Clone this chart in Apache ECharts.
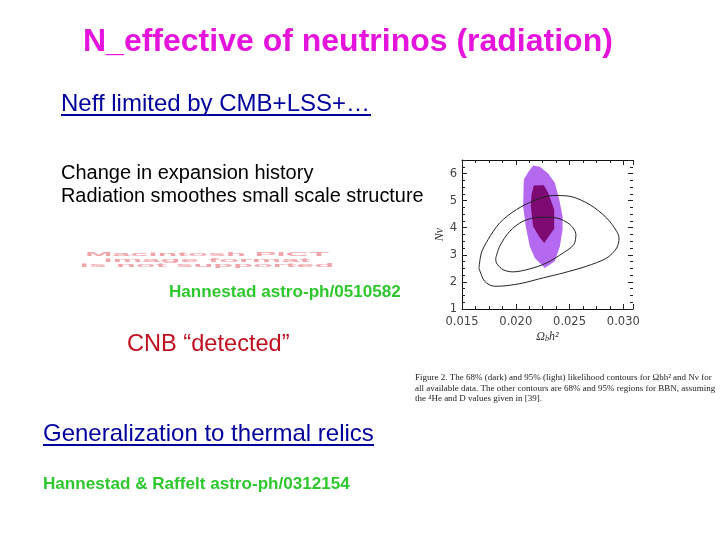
<!DOCTYPE html>
<html>
<head>
    <meta charset="utf-8">
    <title>N_effective of neutrinos</title>
    <script src="https://cdn.jsdelivr.net/npm/echarts@6/dist/echarts.min.js"></script>
    <style>html,body{margin:0;background:#fff}</style>
</head>
<body>
    <div id="main" style="width:720px;height:540px;"></div>
    <script>
        // contours: x = omega_b h^2, y = N_nu
        var outerX = [0.01658,0.0168,0.01742,0.01851,0.02006,0.02193,0.02348,0.02503,0.02689,0.02845,0.02938,0.0296,0.02938,0.02845,0.02658,0.02441,0.02255,0.02068,0.01913,0.01804,0.01711,0.01658];
        var outerY = [2.51,3.07,3.56,4.18,4.67,5.04,5.19,5.16,4.85,4.36,3.87,3.62,3.25,2.88,2.58,2.33,2.15,1.96,1.86,1.84,2.02,2.51];
        var innerX = [0.01814,0.01851,0.01944,0.02068,0.02224,0.02379,0.02503,0.02559,0.0254,0.02441,0.02286,0.0213,0.01975,0.01882,0.0182,0.01814];
        var innerY = [2.88,3.32,3.87,4.24,4.39,4.36,4.12,3.75,3.38,3.07,2.70,2.48,2.37,2.45,2.70,2.88];
        var lightX = [0.02161,0.02224,0.02301,0.02363,0.02404,0.02435,0.02435,0.0241,0.02363,0.0227,0.02177,0.0213,0.02093,0.02068,0.02075,0.02115];
        var lightY = [6.30,6.25,6.0,5.66,5.04,4.42,3.93,3.32,2.76,2.51,2.88,3.32,4.05,4.79,5.78,6.05];
        var darkX = [0.02168,0.02261,0.02301,0.02357,0.02357,0.02264,0.02217,0.02161,0.0214,0.02146];
        var darkY = [5.56,5.57,5.29,4.67,3.96,3.44,3.68,4.05,4.79,5.22];

        var heading = 'N_effective of neutrinos (radiation)';
        var linkTop = 'Neff limited by CMB+LSS+…';
        var bodyLines = ['Change in expansion history', 'Radiation smoothes small scale structure'];
        var pictLines = ['Macintosh PICT', 'image format', 'is not supported'];
        var cite1 = 'Hannestad astro-ph/0510582';
        var detected = 'CNB “detected”';
        var linkBottom = 'Generalization to thermal relics';
        var cite2 = 'Hannestad & Raffelt astro-ph/0312154';
        var captionLines = [
            'Figure 2. The 68% (dark) and 95% (light) likelihood contours for Ωbh² and Nν for',
            'all available data. The other contours are 68% and 95% regions for BBN, assuming',
            'the ⁴He and D values given in [39].'
        ];

        function zip(xs, ys) {
            return xs.map(function (x, i) { return [x, ys[i]]; });
        }

        // filled region, goes through the axis scales with api.coord
        function polygonSeries(xs, ys, color) {
            return {
                type: 'custom',
                coordinateSystem: 'cartesian2d',
                data: zip(xs, ys),
                silent: true,
                renderItem: function (params, api) {
                    if (params.dataIndex !== 0) return null;
                    return {
                        type: 'polygon',
                        shape: { points: zip(xs, ys).map(function (p) { return api.coord(p); }) },
                        style: { fill: color }
                    };
                }
            };
        }

        function contourSeries(xs, ys) {
            return {
                type: 'line',
                data: zip(xs, ys),
                smooth: 0.3,
                showSymbol: false,
                silent: true,
                lineStyle: { color: '#222', width: 1 }
            };
        }

        function label(str, x, y, size, color, weight) {
            return {
                type: 'text', x: x, y: y,
                style: {
                    text: str, fill: color || '#000',
                    font: (weight || 'normal') + ' ' + size + 'px "Liberation Sans", Arial, sans-serif',
                    verticalAlign: 'middle'
                }
            };
        }

        function underline(x1, x2, y, color) {
            return {
                type: 'line',
                shape: { x1: x1, y1: y, x2: x2, y2: y },
                style: { stroke: color, lineWidth: 2 }
            };
        }

        var inkBlue = '#00009c';
        var citeGreen = '#2ec82e';
        var graphics = [
            label(heading, 83, 42, 32, '#e414dc', 'bold'),
            label(linkTop, 61, 104, 24, inkBlue),
            underline(61, 371, 115, inkBlue),
            label(bodyLines[0], 61, 173, 20),
            label(bodyLines[1], 61, 197, 19.9),
            label(cite1, 169, 292, 17.1, citeGreen, 'bold'),
            label(detected, 127, 344, 23.6, '#c01020'),
            label(linkBottom, 43, 434, 24, inkBlue),
            underline(43, 374, 445, inkBlue),
            label(cite2, 43, 484, 17.1, citeGreen, 'bold')
        ];
        // the broken PICT placeholder is squashed and washed out
        [254, 260, 265].forEach(function (y, i) {
            graphics.push({
                type: 'text', x: 207, y: y, scaleX: [2.03, 2.06, 2.03][i], scaleY: 0.38,
                style: {
                    text: pictLines[i], fill: '#f0a4aa', align: 'center', verticalAlign: 'middle',
                    font: 'bold 16px "Liberation Sans", Arial, sans-serif',
                    shadowBlur: 2, shadowColor: '#f0a4aa'
                }
            });
        });
        captionLines.forEach(function (line, i) {
            graphics.push({
                type: 'text', x: 415, y: 378 + i * 10.5,
                style: {
                    text: line, fill: '#222', verticalAlign: 'middle',
                    font: '9px "Liberation Serif", serif'
                }
            });
        });

        var axisLine = { lineStyle: { color: '#111', width: 1 } };
        var ticks = { inside: true, length: 5, lineStyle: { color: '#222' } };
        var minor = { show: true, splitNumber: 4, length: 3, lineStyle: { color: '#222' } };
        var tickFont = { color: '#444', fontFamily: 'DejaVu Sans', fontSize: 11.5 };

        var myChart = echarts.init(document.getElementById('main'), null, { renderer: 'canvas' });
        myChart.setOption({
            animation: false,
            backgroundColor: '#fff',
            grid: { left: 462, right: 87, top: 160, bottom: 231 },
            xAxis: [{
                type: 'value', min: 0.015, max: 0.0309, interval: 0.005,
                splitLine: { show: false },
                axisLine: axisLine, axisTick: ticks, minorTick: minor,
                axisLabel: Object.assign({
                    margin: 7, showMaxLabel: false,
                    formatter: function (v) { return v.toFixed(3); }
                }, tickFont),
                name: '{a|Ω}{b|b}{a|h²}', nameLocation: 'middle', nameGap: 22,
                nameTextStyle: {
                    rich: {
                        a: { fontFamily: 'Liberation Serif', fontStyle: 'italic', fontSize: 12, color: '#333' },
                        b: { fontFamily: 'Liberation Serif', fontStyle: 'italic', fontSize: 8, color: '#333', verticalAlign: 'bottom' }
                    }
                }
            }, {
                type: 'value', position: 'top', min: 0.015, max: 0.0309, interval: 0.005,
                splitLine: { show: false },
                axisLine: axisLine, axisTick: ticks, minorTick: minor,
                axisLabel: { show: false }
            }],
            yAxis: [{
                type: 'value', min: 1, max: 6.5, interval: 1,
                splitLine: { show: false },
                axisLine: axisLine, axisTick: ticks, minorTick: minor,
                axisLabel: Object.assign({ margin: 5, showMaxLabel: false }, tickFont),
                name: 'Nν', nameLocation: 'middle', nameGap: 15, nameRotate: 90,
                nameTextStyle: { fontFamily: 'Liberation Serif', fontStyle: 'italic', fontSize: 12, color: '#333' }
            }, {
                // right side of the figure has ticks but no visible line
                type: 'value', position: 'right', min: 1, max: 6.5, interval: 1,
                splitLine: { show: false },
                axisLine: { show: false }, axisTick: ticks, minorTick: minor,
                axisLabel: { show: false }
            }],
            series: [
                polygonSeries(lightX, lightY, '#b469f0'),
                polygonSeries(darkX, darkY, '#7d0a72'),
                contourSeries(outerX, outerY),
                contourSeries(innerX, innerY)
            ],
            graphic: { elements: graphics }
        });
    </script>
</body>
</html>
